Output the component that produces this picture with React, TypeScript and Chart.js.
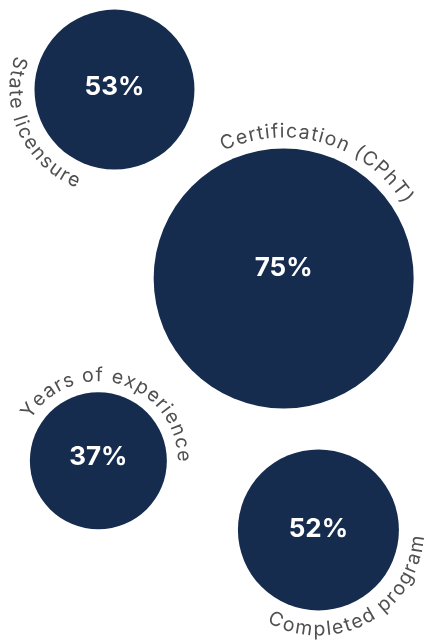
import React, { useEffect, useRef } from "react";
import { Chart, registerables } from "chart.js";

Chart.register(...registerables);

// ---- data ----
const categories = ["State licensure", "Certification (CPhT)", "Years of experience", "Completed program"];
const percentValues = [53, 75, 37, 52];
// bubble layout (percent of chart width / height)
const bubbleX = [27.0, 66.9, 23.2, 75.1];
const bubbleY = [14.0, 43.5, 72.0, 82.8];
const bubbleRadius = [80, 130, 68.5, 80.5];
// label placement around each bubble
const labelAngleDeg = [155, -73.5, -74, 61.4];
const labelSide = ["bottom", "top", "top", "bottom"];
const valueTextOffset = [-2, -10, -4, -1];

const NAVY = "#152c4f";
const LABEL_COLOR = "#505050";
const LABEL_FONT = "19.5px Inter";
const LABEL_SPACING = 1.2;

function drawArcText(
  ctx: CanvasRenderingContext2D,
  text: string,
  cx: number,
  cy: number,
  R: number,
  midAngle: number,
  side: string
) {
  const chars = Array.from(text);
  const widths = chars.map((c) => ctx.measureText(c).width);
  const total = widths.reduce((a, b) => a + b, 0) + LABEL_SPACING * (chars.length - 1);
  // advance measured near the glyph middle for inward-facing text
  const L = side === "top" ? R : R - 5;
  const span = total / L;
  let s = 0;
  chars.forEach((c, i) => {
    const w = widths[i];
    let a: number;
    let rot: number;
    if (side === "top") {
      a = midAngle - span / 2 + (s + w / 2) / L;
      rot = a + Math.PI / 2;
    } else {
      a = midAngle + span / 2 - (s + w / 2) / L;
      rot = a - Math.PI / 2;
    }
    ctx.save();
    ctx.translate(cx + R * Math.cos(a), cy + R * Math.sin(a));
    ctx.rotate(rot);
    ctx.fillText(c, 0, 0);
    ctx.restore();
    s += w + LABEL_SPACING;
  });
}

const bubbleLabels = {
  id: "bubbleLabels",
  afterDatasetsDraw(chart: any) {
    const ctx: CanvasRenderingContext2D = chart.ctx;
    const meta = chart.getDatasetMeta(0);
    meta.data.forEach((el: any, i: number) => {
      const { x, y } = el.getProps(["x", "y"], true);
      const r = el.options.radius;
      // percentage
      ctx.save();
      ctx.fillStyle = "#ffffff";
      ctx.font = "bold 26px Inter";
      ctx.textAlign = "center";
      ctx.textBaseline = "middle";
      ctx.fillText(percentValues[i] + "%", x, y + valueTextOffset[i]);
      ctx.restore();
      // curved label
      ctx.save();
      ctx.fillStyle = LABEL_COLOR;
      ctx.font = LABEL_FONT;
      ctx.textAlign = "center";
      ctx.textBaseline = "alphabetic";
      const side = labelSide[i];
      const R = side === "top" ? r + 11 : r + 25;
      drawArcText(ctx, categories[i], x, y, R, (labelAngleDeg[i] * Math.PI) / 180, side);
      ctx.restore();
    });
  },
};

export default function App() {
  const ref = useRef<HTMLCanvasElement>(null);
  useEffect(() => {
    document.body.style.margin = "0";
    let chart: Chart | null = null;
    let cancelled = false;
    const make = () => {
      if (cancelled || !ref.current) return;
      chart = new Chart(ref.current, {
        type: "bubble",
        data: {
          datasets: [
            {
              label: "Share",
              data: percentValues.map((v, i) => ({ x: bubbleX[i], y: bubbleY[i], r: bubbleRadius[i] })),
              backgroundColor: NAVY,
              borderWidth: 0,
              hoverRadius: 0,
              clip: false as any,
            },
          ],
        },
        options: {
          responsive: false,
          animation: false,
          layout: { padding: 0, autoPadding: false } as any,
          scales: {
            x: { type: "linear", min: 0, max: 100, display: false },
            y: { type: "linear", min: 0, max: 100, reverse: true, display: false },
          },
          plugins: { legend: { display: false }, tooltip: { enabled: false } },
        },
        plugins: [bubbleLabels],
      });
    };
    const fonts: any = (document as any).fonts;
    if (fonts && fonts.load) {
      Promise.all([fonts.load("19.5px Inter"), fonts.load("bold 26px Inter")]).then(make, make);
    } else make();
    return () => {
      cancelled = true;
      if (chart) chart.destroy();
    };
  }, []);
  return (
    <div style={{ width: 424, height: 640 }}>
      <canvas ref={ref} width={424} height={640} style={{ display: "block" }} />
    </div>
  );
}
